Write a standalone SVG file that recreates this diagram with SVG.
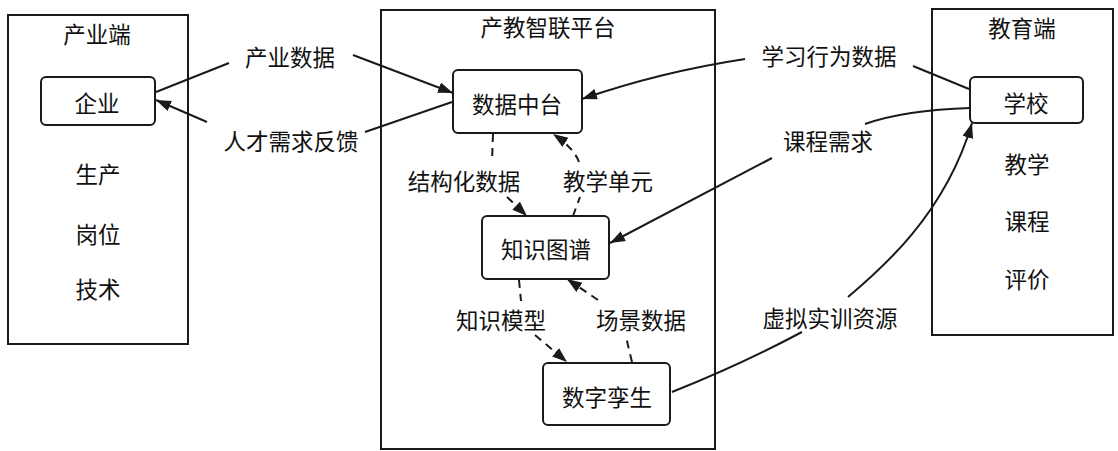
<svg xmlns="http://www.w3.org/2000/svg" width="1118" height="451" viewBox="0 0 1118 451">
<style>
text{font-family:"Noto Sans CJK SC","Noto Sans",sans-serif;font-size:22.5px;fill:#111;text-anchor:middle;dominant-baseline:central}
.frame{fill:none;stroke:#1a1a1a;stroke-width:2}
.node{fill:#fff;stroke:#1a1a1a;stroke-width:2}
.edge{fill:none;stroke:#1a1a1a;stroke-width:2}
.dash{stroke-dasharray:8 6}
</style>
<defs>
<marker id="arr" markerUnits="userSpaceOnUse" markerWidth="18" markerHeight="14" refX="15" refY="5.5" orient="auto" viewBox="0 0 18 14">
<path d="M0,0 L15,5.5 L0,11 z" fill="#1a1a1a"/>
</marker>
</defs>
<rect width="1118" height="451" fill="#fff"/>
<g id="industry">
<rect class="frame" x="8" y="15" width="180" height="329"/>
<text x="97" y="33">产业端</text>
<text x="98" y="173">生产</text>
<text x="98" y="233">岗位</text>
<text x="98" y="288">技术</text>
</g>
<g id="enterprise">
<rect class="node" x="41" y="77" width="114" height="48" rx="5"/>
<text x="97" y="102">企业</text>
</g>
<g id="platform">
<rect class="frame" x="381" y="10" width="334" height="439"/>
<text x="548" y="26">产教智联平台</text>
</g>
<g id="datahub">
<rect class="node" x="453" y="70" width="129" height="63" rx="5"/>
<text x="517" y="103">数据中台</text>
</g>
<g id="kgraph">
<rect class="node" x="482" y="216" width="127" height="63" rx="5"/>
<text x="546" y="248">知识图谱</text>
</g>
<g id="twin">
<rect class="node" x="543" y="363" width="127" height="62" rx="5"/>
<text x="607" y="396">数字孪生</text>
</g>
<g id="education">
<rect class="frame" x="932" y="9" width="181" height="326"/>
<text x="1022" y="27">教育端</text>
<text x="1027" y="163">教学</text>
<text x="1027" y="220">课程</text>
<text x="1027" y="278">评价</text>
</g>
<g id="school">
<rect class="node" x="970" y="77" width="113" height="46" rx="5"/>
<text x="1026" y="102">学校</text>
</g>
<g id="connectors">
<path class="edge" d="M156,92 L229,63 M353,55 L453,93" marker-end="url(#arr)"/>
<path class="edge" d="M452,102 L365,132 M207,122 L156,100" marker-end="url(#arr)"/>
<path class="edge" d="M969,89 L913,66 M745,59 Q660,72 582,99" marker-end="url(#arr)"/>
<path class="edge" d="M970,108 Q905,110 865,124 M772,158 L610,243" marker-end="url(#arr)"/>
<path class="edge" d="M672,392 Q740,365 802,332 M848,297 C880,270 945,215 972,123" marker-end="url(#arr)"/>
<path class="edge dash" d="M493,134 L492,162 M507,197 L527,216" marker-end="url(#arr)"/>
<path class="edge dash" d="M573,216 L580,197 M579,162 Q574,148 553,134" marker-end="url(#arr)"/>
<path class="edge dash" d="M519,280 L521,301 M535,335 L567,362" marker-end="url(#arr)"/>
<path class="edge dash" d="M632,362 L626,337 M598,300 L567,279" marker-end="url(#arr)"/>
</g>
<g id="labels">
<text x="290" y="56">产业数据</text>
<text x="291" y="140">人才需求反馈</text>
<text x="829" y="55">学习行为数据</text>
<text x="828" y="140">课程需求</text>
<text x="830" y="317">虚拟实训资源</text>
<text x="464" y="180">结构化数据</text>
<text x="608" y="180">教学单元</text>
<text x="501" y="319">知识模型</text>
<text x="641" y="319">场景数据</text>
</g>
</svg>
